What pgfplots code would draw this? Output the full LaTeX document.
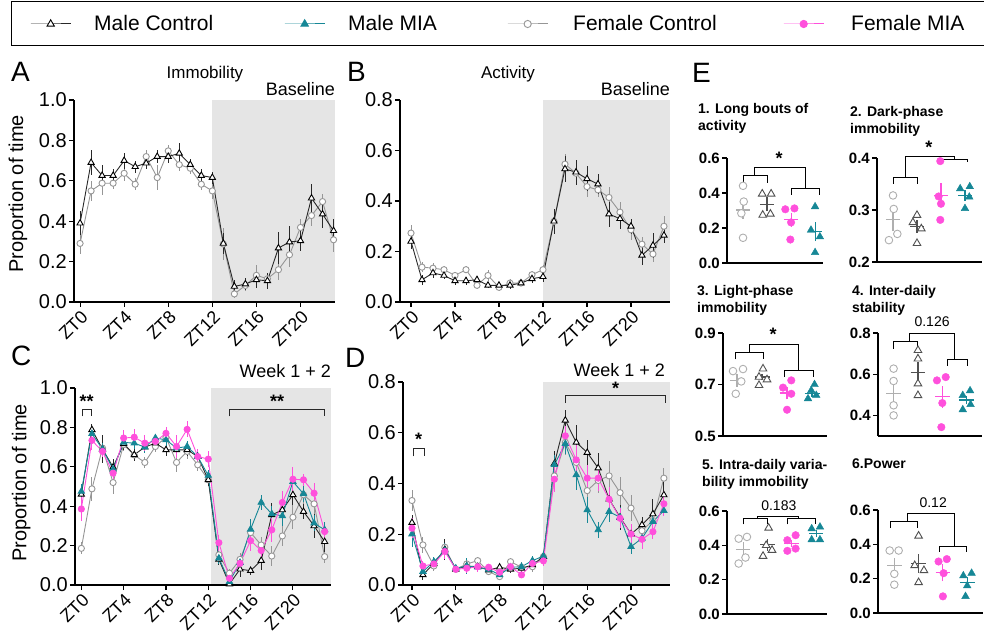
\documentclass[border=0pt]{standalone}
\usepackage{pgfplots}
\pgfplotsset{compat=1.18}
\usepackage{fontspec}
\setmainfont{Liberation Sans}
\definecolor{mteal}{RGB}{22,135,150}
\definecolor{mpink}{RGB}{255,80,220}
\definecolor{shade}{RGB}{229,229,229}
\definecolor{fcgrey}{RGB}{150,150,150}
\definecolor{egrey}{RGB}{175,175,175}
\definecolor{mcdark}{RGB}{40,40,40}
\definecolor{emc}{RGB}{80,80,80}
\newcommand{\fs}[1]{\fontsize{#1}{#1}\selectfont}
\pgfplotsset{
 table/tab/.style={x index=0, y index=1, y error index=2, row sep=\\},
 base/.style={scale only axis, axis x line=bottom, axis y line=left,
   axis line style={-, line width=1.1pt, black},
   tick align=outside, major tick length=5pt, tick style={line width=1.1pt, black},
   clip=false, axis on top,
   /pgf/number format/assume math mode=true,
   y tick label style={/pgf/number format/fixed, /pgf/number format/fixed zerofill, /pgf/number format/precision=1}},
 ts/.style={base, xtick={0,4,8,12,16,20}, xticklabels={ZT0,ZT4,ZT8,ZT12,ZT16,ZT20},
   x tick label style={rotate=45, anchor=north east, font=\fs{18}, inner sep=1.5pt},
   y tick label style={font=\fs{20}, inner sep=2pt}},
 es/.style={base, xtick=\empty, y tick label style={font=\bfseries\fs{15}, inner sep=2pt}},
 errb/.style={error bars/.cd, y dir=both, y explicit, error mark=none, error bar style={line width=0.9pt}},
 fcL/.style={color=fcgrey, line width=1pt, mark=*, mark size=3.6pt, mark options={fill=white, draw=fcgrey, line width=0.9pt}},
 mcL/.style={color=mcdark, line width=1pt, mark=triangle*, mark size=4.2pt, mark options={fill=white, draw=black, line width=0.9pt}},
 mmL/.style={color=mteal, line width=1pt, mark=triangle*, mark size=4.2pt, mark options={fill=mteal, draw=mteal}},
 fmL/.style={color=mpink, line width=1pt, mark=*, mark size=3.6pt, mark options={fill=mpink, draw=mpink}},
 fcS/.style={fcL, line width=0.9pt, mark size=3.1pt, errb},
 mcS/.style={mcL, line width=0.9pt, mark size=3.6pt, errb},
 mmS/.style={mmL, line width=0.9pt, mark size=3.6pt, errb},
 fmS/.style={fmL, line width=0.9pt, mark size=3.1pt, errb},
 eFC/.style={only marks, mark=*, mark size=3.8pt, mark options={fill=white, draw=egrey, line width=0.9pt}},
 eMC/.style={only marks, mark=triangle*, mark size=4.4pt, mark options={fill=white, draw=emc, line width=0.9pt}},
 eFM/.style={only marks, mark=*, mark size=3.8pt, mark options={fill=mpink, draw=mpink}},
 eMM/.style={only marks, mark=triangle*, mark size=4.4pt, mark options={fill=mteal, draw=mteal}},
 ml/.style={line width=1.1pt, no marks},
}
\begin{document}
\begin{tikzpicture}
\path[use as bounding box] (0pt,0pt) rectangle (984pt,640pt);

% ---------- legend ----------
\draw[line width=1pt] (984pt,638pt) -- (11pt,638pt) -- (11pt,594pt) -- (984pt,594pt);
\begin{axis}[at={(10pt,594pt)}, anchor=south west, scale only axis, width=974pt, height=44pt,
  xmin=0, xmax=1, ymin=0, ymax=1, hide axis, legend columns=4,
  legend style={at={(0.02053,0.5)}, anchor=west, draw=none, fill=none, inner sep=0pt,
    column sep=0pt, nodes={inner sep=0pt}, font=\fs{21}},
  legend image code/.code={\draw[mark repeat=2, mark phase=2, #1] plot coordinates {(0pt,0pt) (20pt,0pt) (40pt,0pt)};}]
\addlegendimage{mcL}\addlegendentry{\makebox[213pt][l]{\hspace*{23pt}Male Control}}
\addlegendimage{mmL}\addlegendentry{\makebox[182pt][l]{\hspace*{23pt}Male MIA}}
\addlegendimage{fcL}\addlegendentry{\makebox[235pt][l]{\hspace*{25pt}Female Control}}
\addlegendimage{fmL}\addlegendentry{\makebox[150pt][l]{\hspace*{27pt}Female MIA}}
\end{axis}

% ---------- panel letters and titles ----------
\node[anchor=base west, font=\fs{28}, inner sep=0pt] at (11pt,558pt) {A};
\node[anchor=base west, font=\fs{28}, inner sep=0pt] at (347pt,558pt) {B};
\node[anchor=base west, font=\fs{28}, inner sep=0pt] at (11pt,274pt) {C};
\node[anchor=base west, font=\fs{28}, inner sep=0pt] at (345pt,272pt) {D};
\node[anchor=base west, font=\fs{28}, inner sep=0pt] at (692pt,557pt) {E};
\node[anchor=base, font=\fs{17}, inner sep=0pt] at (205pt,561pt) {Immobility};
\node[anchor=base, font=\fs{17}, inner sep=0pt] at (508pt,561pt) {Activity};
\node[anchor=base east, font=\fs{18}, inner sep=0pt] at (335pt,544pt) {Baseline};
\node[anchor=base east, font=\fs{18}, inner sep=0pt] at (670pt,544pt) {Baseline};
\node[anchor=base east, font=\fs{18}, inner sep=0pt] at (331pt,262pt) {Week 1 + 2};
\node[anchor=base east, font=\fs{18}, inner sep=0pt] at (665pt,263pt) {Week 1 + 2};
\node[anchor=base east, font=\fs{21}, inner sep=0pt] at (666pt,58pt) {Time};

% E titles
\node[anchor=north west, align=left, font=\bfseries\fs{14}, inner sep=0pt] at (698pt,537pt) {1. Long bouts of\\[3pt]activity};
\node[anchor=north west, align=left, font=\bfseries\fs{14}, inner sep=0pt] at (850pt,534pt) {2. Dark-phase\\[3pt]immobility};
\node[anchor=north west, align=left, font=\bfseries\fs{14}, inner sep=0pt] at (697pt,355pt) {3. Light-phase\\[3pt]immobility};
\node[anchor=north west, align=left, font=\bfseries\fs{14}, inner sep=0pt] at (852pt,355pt) {4. Inter-daily\\[3pt]stability};
\node[anchor=north west, align=left, font=\bfseries\fs{14}, inner sep=0pt] at (702pt,181pt) {5. Intra-daily varia-\\[3pt]bility immobility};
\node[anchor=north west, align=left, font=\bfseries\fs{14}, inner sep=0pt] at (852pt,181pt) {6.Power};

% ---------- A ----------
\begin{axis}[ts, at={(74pt,338pt)}, anchor=south west, width=261pt, height=202pt,
  xmin=-0.55, xmax=23.13, ymin=0, ymax=1, ytick={0,0.2,0.4,0.6,0.8,1},
  ylabel={Proportion of time}, ylabel style={font=\fs{20}, at={(axis description cs:-0.215,0.535)}, anchor=center}]
\addplot[fill=shade, draw=none] coordinates {(12,1) (23.13,1)} \closedcycle;
\addplot[fcS] table[tab] {0 0.29 0.05\\1 0.55 0.05\\2 0.588 0.06\\3 0.588 0.03\\4 0.637 0.04\\5 0.583 0.03\\6 0.72 0.03\\7 0.616 0.06\\8 0.748 0.03\\9 0.68 0.03\\10 0.662 0.03\\11 0.583 0.03\\12 0.55 0.04\\13 0.287 0.08\\14 0.04 0.02\\15 0.082 0.03\\16 0.132 0.05\\17 0.115 0.03\\18 0.16 0.05\\19 0.234 0.06\\20 0.369 0.04\\21 0.428 0.05\\22 0.497 0.04\\23 0.308 0.06\\};
\addplot[mcS] table[tab] {0 0.39 0.06\\1 0.69 0.06\\2 0.626 0.05\\3 0.626 0.03\\4 0.70 0.04\\5 0.67 0.03\\6 0.687 0.03\\7 0.72 0.03\\8 0.72 0.03\\9 0.736 0.05\\10 0.68 0.03\\11 0.626 0.03\\12 0.616 0.03\\13 0.29 0.05\\14 0.077 0.03\\15 0.089 0.03\\16 0.11 0.04\\17 0.105 0.04\\18 0.267 0.08\\19 0.297 0.08\\20 0.303 0.05\\21 0.514 0.07\\22 0.435 0.07\\23 0.353 0.06\\};
\end{axis}

% ---------- B ----------
\begin{axis}[ts, at={(400pt,338pt)}, anchor=south west, width=270pt, height=202pt,
  xmin=-1, xmax=23.55, ymin=0, ymax=0.8, ytick={0,0.2,0.4,0.6,0.8}]
\addplot[fill=shade, draw=none] coordinates {(12,0.8) (23.55,0.8)} \closedcycle;
\addplot[fcS] table[tab] {0 0.273 0.03\\1 0.138 0.02\\2 0.134 0.02\\3 0.128 0.015\\4 0.105 0.015\\5 0.128 0.015\\6 0.066 0.015\\7 0.105 0.02\\8 0.058 0.015\\9 0.075 0.015\\10 0.075 0.01\\11 0.108 0.015\\12 0.128 0.02\\13 0.319 0.05\\14 0.546 0.04\\15 0.51 0.04\\16 0.457 0.04\\17 0.444 0.03\\18 0.414 0.04\\19 0.356 0.04\\20 0.286 0.04\\21 0.229 0.03\\22 0.19 0.03\\23 0.30 0.04\\};
\addplot[mcS] table[tab] {0 0.24 0.03\\1 0.088 0.02\\2 0.115 0.02\\3 0.105 0.015\\4 0.084 0.015\\5 0.084 0.015\\6 0.088 0.015\\7 0.066 0.01\\8 0.066 0.01\\9 0.066 0.015\\10 0.075 0.01\\11 0.092 0.015\\12 0.10 0.02\\13 0.32 0.05\\14 0.527 0.05\\15 0.514 0.05\\16 0.488 0.05\\17 0.467 0.04\\18 0.348 0.05\\19 0.33 0.04\\20 0.30 0.03\\21 0.185 0.04\\22 0.224 0.05\\23 0.264 0.03\\};
\end{axis}

% ---------- C ----------
\begin{axis}[ts, at={(75pt,55pt)}, anchor=south west, width=256pt, height=197pt,
  xmin=-0.6, xmax=23.6, ymin=0, ymax=1, ytick={0,0.2,0.4,0.6,0.8,1},
  ylabel={Proportion of time}, ylabel style={font=\fs{20}, at={(axis description cs:-0.21,0.518)}, anchor=center}]
\addplot[fill=shade, draw=none] coordinates {(12.25,1) (23.6,1)} \closedcycle;
\addplot[fcS] table[tab] {0 0.186 0.03\\1 0.488 0.06\\2 0.695 0.04\\3 0.52 0.06\\4 0.712 0.03\\5 0.66 0.03\\6 0.622 0.03\\7 0.703 0.03\\8 0.75 0.04\\9 0.622 0.05\\10 0.678 0.04\\11 0.61 0.03\\12 0.534 0.03\\13 0.153 0.03\\14 0.06 0.02\\15 0.13 0.03\\16 0.266 0.04\\17 0.203 0.04\\18 0.147 0.05\\19 0.249 0.05\\20 0.344 0.06\\21 0.458 0.05\\22 0.412 0.05\\23 0.144 0.03\\};
\addplot[mcS] table[tab] {0 0.46 0.05\\1 0.788 0.03\\2 0.69 0.07\\3 0.598 0.04\\4 0.717 0.03\\5 0.661 0.03\\6 0.70 0.03\\7 0.72 0.03\\8 0.686 0.03\\9 0.686 0.03\\10 0.686 0.03\\11 0.652 0.03\\12 0.534 0.03\\13 0.13 0.03\\14 0.005 0.01\\15 0.08 0.04\\16 0.073 0.02\\17 0.124 0.05\\18 0.356 0.06\\19 0.381 0.04\\20 0.458 0.05\\21 0.373 0.04\\22 0.30 0.06\\23 0.22 0.05\\};
\addplot[mmS] table[tab] {0 0.475 0.04\\1 0.768 0.03\\2 0.69 0.03\\3 0.588 0.03\\4 0.724 0.03\\5 0.72 0.03\\6 0.70 0.03\\7 0.746 0.02\\8 0.737 0.03\\9 0.695 0.03\\10 0.703 0.03\\11 0.652 0.03\\12 0.556 0.03\\13 0.136 0.03\\14 0.017 0.01\\15 0.114 0.03\\16 0.283 0.05\\17 0.419 0.04\\18 0.361 0.04\\19 0.351 0.05\\20 0.525 0.05\\21 0.463 0.04\\22 0.314 0.04\\23 0.28 0.04\\};
\addplot[fmS] table[tab] {0 0.386 0.06\\1 0.734 0.05\\2 0.678 0.03\\3 0.568 0.03\\4 0.746 0.04\\5 0.75 0.04\\6 0.72 0.04\\7 0.729 0.03\\8 0.77 0.03\\9 0.703 0.06\\10 0.79 0.04\\11 0.652 0.04\\12 0.639 0.04\\13 0.215 0.04\\14 0.034 0.02\\15 0.11 0.04\\16 0.225 0.05\\17 0.175 0.04\\18 0.28 0.06\\19 0.419 0.06\\20 0.537 0.06\\21 0.534 0.03\\22 0.466 0.05\\23 0.271 0.03\\};
\draw[line width=0.9pt, mcdark] (axis cs:0.1,0.856) -- (axis cs:0.1,0.893) -- (axis cs:0.95,0.893) -- (axis cs:0.95,0.856);
\draw[line width=0.9pt, mcdark] (axis cs:14,0.856) -- (axis cs:14,0.893) -- (axis cs:23,0.893) -- (axis cs:23,0.856);
\node[font=\bfseries\fs{18}] at (axis cs:0.5,0.93) {**};
\node[font=\bfseries\fs{18}] at (axis cs:18.5,0.93) {**};
\end{axis}

% ---------- D ----------
\begin{axis}[ts, at={(403pt,55pt)}, anchor=south west, width=267pt, height=203pt,
  xmin=-0.82, xmax=23.56, ymin=0, ymax=0.8, ytick={0,0.2,0.4,0.6,0.8}]
\addplot[fill=shade, draw=none] coordinates {(12,0.8) (23.56,0.8)} \closedcycle;
\addplot[fcS] table[tab] {0 0.333 0.04\\1 0.158 0.03\\2 0.075 0.02\\3 0.149 0.03\\4 0.062 0.01\\5 0.083 0.015\\6 0.096 0.015\\7 0.053 0.01\\8 0.033 0.01\\9 0.092 0.015\\10 0.07 0.02\\11 0.072 0.02\\12 0.112 0.02\\13 0.43 0.05\\14 0.562 0.05\\15 0.483 0.05\\16 0.372 0.06\\17 0.412 0.05\\18 0.43 0.06\\19 0.364 0.06\\20 0.303 0.05\\21 0.214 0.04\\22 0.254 0.04\\23 0.421 0.04\\};
\addplot[mcS] table[tab] {0 0.246 0.03\\1 0.04 0.02\\2 0.085 0.02\\3 0.14 0.04\\4 0.062 0.01\\5 0.075 0.015\\6 0.072 0.015\\7 0.059 0.01\\8 0.07 0.015\\9 0.062 0.015\\10 0.066 0.015\\11 0.079 0.015\\12 0.112 0.02\\13 0.478 0.05\\14 0.649 0.04\\15 0.562 0.07\\16 0.522 0.05\\17 0.461 0.06\\18 0.338 0.05\\19 0.267 0.05\\20 0.201 0.04\\21 0.237 0.03\\22 0.28 0.06\\23 0.355 0.05\\};
\addplot[mmS] table[tab] {0 0.201 0.05\\1 0.053 0.02\\2 0.092 0.02\\3 0.136 0.03\\4 0.066 0.01\\5 0.075 0.03\\6 0.07 0.015\\7 0.062 0.01\\8 0.04 0.015\\9 0.07 0.015\\10 0.072 0.015\\11 0.096 0.02\\12 0.114 0.02\\13 0.474 0.04\\14 0.557 0.04\\15 0.434 0.06\\16 0.296 0.05\\17 0.217 0.03\\18 0.289 0.04\\19 0.267 0.04\\20 0.151 0.03\\21 0.184 0.03\\22 0.25 0.03\\23 0.293 0.02\\};
\addplot[fmS] table[tab] {0 0.224 0.04\\1 0.075 0.02\\2 0.083 0.02\\3 0.132 0.03\\4 0.062 0.01\\5 0.066 0.02\\6 0.072 0.02\\7 0.07 0.01\\8 0.05 0.02\\9 0.072 0.02\\10 0.04 0.01\\11 0.085 0.02\\12 0.095 0.02\\13 0.417 0.05\\14 0.588 0.04\\15 0.493 0.06\\16 0.421 0.05\\17 0.421 0.05\\18 0.338 0.05\\19 0.263 0.04\\20 0.201 0.04\\21 0.18 0.04\\22 0.21 0.03\\23 0.32 0.05\\};
\draw[line width=0.9pt, mcdark] (axis cs:0.1,0.507) -- (axis cs:0.1,0.539) -- (axis cs:1.15,0.539) -- (axis cs:1.15,0.507);
\draw[line width=0.9pt, mcdark] (axis cs:14,0.717) -- (axis cs:14,0.746) -- (axis cs:23.1,0.746) -- (axis cs:23.1,0.717);
\node[font=\bfseries\fs{18}] at (axis cs:0.6,0.575) {*};
\node[font=\bfseries\fs{18}] at (axis cs:18.6,0.775) {*};
\end{axis}

% ---------- E1 ----------
\begin{axis}[es, at={(727pt,377pt)}, anchor=south west, width=96pt, height=105pt,
  xmin=0.333, xmax=4.33, ymin=0, ymax=0.6, ytick={0,0.2,0.4,0.6}]
\addplot[eFC] coordinates {(1.00,0.441) (1.03,0.351) (0.93,0.284) (1.00,0.144)};
\addplot[eMC] coordinates {(1.80,0.395) (2.17,0.395) (1.82,0.274) (2.14,0.280)};
\addplot[eFM] coordinates {(2.76,0.307) (3.14,0.312) (3.00,0.232) (2.97,0.134)};
\addplot[eMM] coordinates {(4.00,0.322) (3.83,0.188) (4.20,0.150) (4.00,0.060)};
\addplot[ml, egrey] coordinates {(0.7,0.303) (1.3,0.303)};
\addplot[ml, egrey] coordinates {(1,0.253) (1,0.353)};
\addplot[ml, emc] coordinates {(1.7,0.336) (2.3,0.336)};
\addplot[ml, emc] coordinates {(2,0.296) (2,0.376)};
\addplot[ml, mpink] coordinates {(2.7,0.246) (3.3,0.246)};
\addplot[ml, mpink] coordinates {(3,0.206) (3,0.286)};
\addplot[ml, mteal] coordinates {(3.7,0.18) (4.3,0.18)};
\addplot[ml, mteal] coordinates {(4,0.125) (4,0.235)};
\draw[line width=1pt] (axis cs:1,0.456) -- (axis cs:1,0.498) -- (axis cs:2,0.498) -- (axis cs:2,0.456);
\draw[line width=1pt] (axis cs:1.47,0.498) -- (axis cs:1.47,0.548) -- (axis cs:3.6,0.548) -- (axis cs:3.6,0.427);
\draw[line width=1pt] (axis cs:3,0.389) -- (axis cs:3,0.427) -- (axis cs:4.2,0.427) -- (axis cs:4.2,0.389);
\node[font=\bfseries\fs{18}] at (axis cs:2.5,0.60) {*};
\end{axis}

% ---------- E2 ----------
\begin{axis}[es, at={(877pt,378pt)}, anchor=south west, width=105pt, height=104pt,
  xmin=0.333, xmax=4.71, ymin=0.2, ymax=0.4, ytick={0.2,0.3,0.4}]
\addplot[eFC] coordinates {(1.0,0.328) (1.03,0.302) (1.18,0.254) (0.83,0.242)};
\addplot[eMC] coordinates {(2.0,0.290) (1.83,0.276) (2.18,0.264) (2.0,0.236)};
\addplot[eFM] coordinates {(2.97,0.394) (2.9,0.326) (3.0,0.312) (2.97,0.281)};
\addplot[eMM] coordinates {(3.8,0.341) (4.2,0.345) (4.18,0.325) (4.0,0.303)};
\addplot[ml, egrey] coordinates {(0.7,0.281) (1.3,0.281)};
\addplot[ml, egrey] coordinates {(1,0.259) (1,0.303)};
\addplot[ml, emc] coordinates {(1.7,0.268) (2.3,0.268)};
\addplot[ml, emc] coordinates {(2,0.256) (2,0.28)};
\addplot[ml, mpink] coordinates {(2.7,0.328) (3.3,0.328)};
\addplot[ml, mpink] coordinates {(3,0.305) (3,0.351)};
\addplot[ml, mteal] coordinates {(3.7,0.328) (4.3,0.328)};
\addplot[ml, mteal] coordinates {(4,0.318) (4,0.338)};
\draw[line width=1pt] (axis cs:1,0.35) -- (axis cs:1,0.363) -- (axis cs:2,0.363) -- (axis cs:2,0.35);
\draw[line width=1pt] (axis cs:1.5,0.363) -- (axis cs:1.5,0.403) -- (axis cs:3.55,0.403) -- (axis cs:3.55,0.398);
\draw[line width=1pt] (axis cs:3,0.393) -- (axis cs:3,0.398) -- (axis cs:4.1,0.398) -- (axis cs:4.1,0.393);
\node[font=\bfseries\fs{18}] at (axis cs:2.5,0.421) {*};
\end{axis}

% ---------- E3 ----------
\begin{axis}[es, at={(723pt,204pt)}, anchor=south west, width=104pt, height=103pt,
  xmin=0.44, xmax=4.6, ymin=0.5, ymax=0.9, ytick={0.5,0.7,0.9}]
\addplot[eFC] coordinates {(0.84,0.752) (1.24,0.76) (1.17,0.712) (0.95,0.664)};
\addplot[eMC] coordinates {(2.04,0.761) (1.88,0.729) (2.2,0.719) (1.88,0.697)};
\addplot[eFM] coordinates {(3.17,0.716) (2.84,0.688) (3.17,0.664) (3.0,0.602)};
\addplot[eMM] coordinates {(4.1,0.70) (3.97,0.677) (4.17,0.658) (3.84,0.645)};
\addplot[ml, egrey] coordinates {(0.7,0.716) (1.3,0.716)};
\addplot[ml, egrey] coordinates {(1,0.691) (1,0.741)};
\addplot[ml, emc] coordinates {(1.7,0.729) (2.3,0.729)};
\addplot[ml, emc] coordinates {(2,0.716) (2,0.742)};
\addplot[ml, mpink] coordinates {(2.7,0.667) (3.3,0.667)};
\addplot[ml, mpink] coordinates {(3,0.642) (3,0.692)};
\addplot[ml, mteal] coordinates {(3.7,0.664) (4.3,0.664)};
\addplot[ml, mteal] coordinates {(4,0.652) (4,0.676)};
\draw[line width=1pt] (axis cs:0.92,0.798) -- (axis cs:0.92,0.824) -- (axis cs:2.05,0.824) -- (axis cs:2.05,0.798);
\draw[line width=1pt] (axis cs:1.48,0.824) -- (axis cs:1.48,0.856) -- (axis cs:3.44,0.856) -- (axis cs:3.44,0.755);
\draw[line width=1pt] (axis cs:2.91,0.729) -- (axis cs:2.91,0.755) -- (axis cs:4.04,0.755) -- (axis cs:4.04,0.729);
\node[font=\bfseries\fs{18}] at (axis cs:2.44,0.895) {*};
\end{axis}

% ---------- E4 ----------
\begin{axis}[es, at={(878pt,204pt)}, anchor=south west, width=104pt, height=103pt,
  xmin=0.36, xmax=4.63, ymin=0.3, ymax=0.8, ytick={0.4,0.6,0.8}]
\addplot[eFC] coordinates {(1,0.627) (1,0.567) (1,0.449) (1,0.40)};
\addplot[eMC] coordinates {(2,0.716) (2,0.675) (2,0.554) (2,0.497)};
\addplot[eFM] coordinates {(2.78,0.57) (3.14,0.586) (3.0,0.46) (2.96,0.343)};
\addplot[eMM] coordinates {(4.14,0.52) (3.84,0.497) (4.16,0.453) (3.84,0.428)};
\addplot[ml, egrey] coordinates {(0.7,0.508) (1.3,0.508)};
\addplot[ml, egrey] coordinates {(1,0.458) (1,0.558)};
\addplot[ml, emc] coordinates {(1.7,0.61) (2.3,0.61)};
\addplot[ml, emc] coordinates {(2,0.56) (2,0.66)};
\addplot[ml, mpink] coordinates {(2.7,0.49) (3.3,0.49)};
\addplot[ml, mpink] coordinates {(3,0.435) (3,0.545)};
\addplot[ml, mteal] coordinates {(3.7,0.475) (4.3,0.475)};
\addplot[ml, mteal] coordinates {(4,0.455) (4,0.495)};
\draw[line width=1pt] (axis cs:1,0.724) -- (axis cs:1,0.76) -- (axis cs:2,0.76) -- (axis cs:2,0.724);
\draw[line width=1pt] (axis cs:1.66,0.76) -- (axis cs:1.66,0.80) -- (axis cs:3.49,0.80) -- (axis cs:3.49,0.672);
\draw[line width=1pt] (axis cs:3.22,0.64) -- (axis cs:3.22,0.672) -- (axis cs:4.04,0.672) -- (axis cs:4.04,0.64);
\node[font=\fs{14}] at (axis cs:2.58,0.853) {0.126};
\end{axis}

% ---------- E5 ----------
\begin{axis}[es, at={(727pt,26pt)}, anchor=south west, width=100pt, height=103pt,
  xmin=0.34, xmax=4.45, ymin=0, ymax=0.6, ytick={0,0.2,0.4,0.6}]
\addplot[eFC] coordinates {(0.82,0.439) (1.16,0.449) (1.1,0.329) (0.82,0.294)};
\addplot[eMC] coordinates {(2.05,0.501) (1.95,0.40) (2.19,0.372) (1.82,0.337)};
\addplot[eFM] coordinates {(3.16,0.459) (2.82,0.43) (3.16,0.381) (2.82,0.368)};
\addplot[eMM] coordinates {(3.82,0.497) (4.16,0.507) (3.82,0.433) (4.16,0.433)};
\addplot[ml, egrey] coordinates {(0.7,0.377) (1.3,0.377)};
\addplot[ml, egrey] coordinates {(1,0.337) (1,0.417)};
\addplot[ml, emc] coordinates {(1.7,0.403) (2.3,0.403)};
\addplot[ml, emc] coordinates {(2,0.368) (2,0.438)};
\addplot[ml, mpink] coordinates {(2.7,0.41) (3.3,0.41)};
\addplot[ml, mpink] coordinates {(3,0.39) (3,0.43)};
\addplot[ml, mteal] coordinates {(3.7,0.468) (4.3,0.468)};
\addplot[ml, mteal] coordinates {(4,0.448) (4,0.488)};
\draw[line width=1pt] (axis cs:1.03,0.522) -- (axis cs:1.03,0.555) -- (axis cs:2,0.555) -- (axis cs:2,0.522);
\draw[line width=1pt] (axis cs:2.81,0.522) -- (axis cs:2.81,0.555) -- (axis cs:3.97,0.555) -- (axis cs:3.97,0.522);
\draw[line width=1pt] (axis cs:1.59,0.555) -- (axis cs:1.59,0.569) -- (axis cs:3.27,0.569) -- (axis cs:3.27,0.555);
\node[font=\fs{14}] at (axis cs:2.47,0.633) {0.183};
\end{axis}

% ---------- E6 ----------
\begin{axis}[es, at={(878pt,27pt)}, anchor=south west, width=105pt, height=103pt,
  xmin=0.33, xmax=4.65, ymin=0, ymax=0.6, ytick={0,0.2,0.4,0.6}]
\addplot[eFC] coordinates {(0.81,0.364) (1.18,0.364) (1.0,0.228) (1.0,0.165)};
\addplot[eMC] coordinates {(2.0,0.449) (1.84,0.277) (2.22,0.248) (2.0,0.178)};
\addplot[eFM] coordinates {(2.82,0.30) (3.16,0.314) (3.03,0.232) (3.0,0.097)};
\addplot[eMM] coordinates {(3.84,0.217) (4.18,0.232) (4.0,0.159) (3.93,0.097)};
\addplot[ml, egrey] coordinates {(0.7,0.275) (1.3,0.275)};
\addplot[ml, egrey] coordinates {(1,0.23) (1,0.32)};
\addplot[ml, emc] coordinates {(1.7,0.29) (2.3,0.29)};
\addplot[ml, emc] coordinates {(2,0.235) (2,0.345)};
\addplot[ml, mpink] coordinates {(2.7,0.236) (3.3,0.236)};
\addplot[ml, mpink] coordinates {(3,0.186) (3,0.286)};
\addplot[ml, mteal] coordinates {(3.7,0.178) (4.3,0.178)};
\addplot[ml, mteal] coordinates {(4,0.148) (4,0.208)};
\draw[line width=1pt] (axis cs:0.84,0.494) -- (axis cs:0.84,0.532) -- (axis cs:1.96,0.532) -- (axis cs:1.96,0.494);
\draw[line width=1pt] (axis cs:1.56,0.532) -- (axis cs:1.56,0.58) -- (axis cs:3.47,0.58) -- (axis cs:3.47,0.387);
\draw[line width=1pt] (axis cs:2.86,0.358) -- (axis cs:2.86,0.387) -- (axis cs:3.96,0.387) -- (axis cs:3.96,0.358);
\node[font=\fs{14}] at (axis cs:2.6,0.643) {0.12};
\end{axis}
\end{tikzpicture}
\end{document}
